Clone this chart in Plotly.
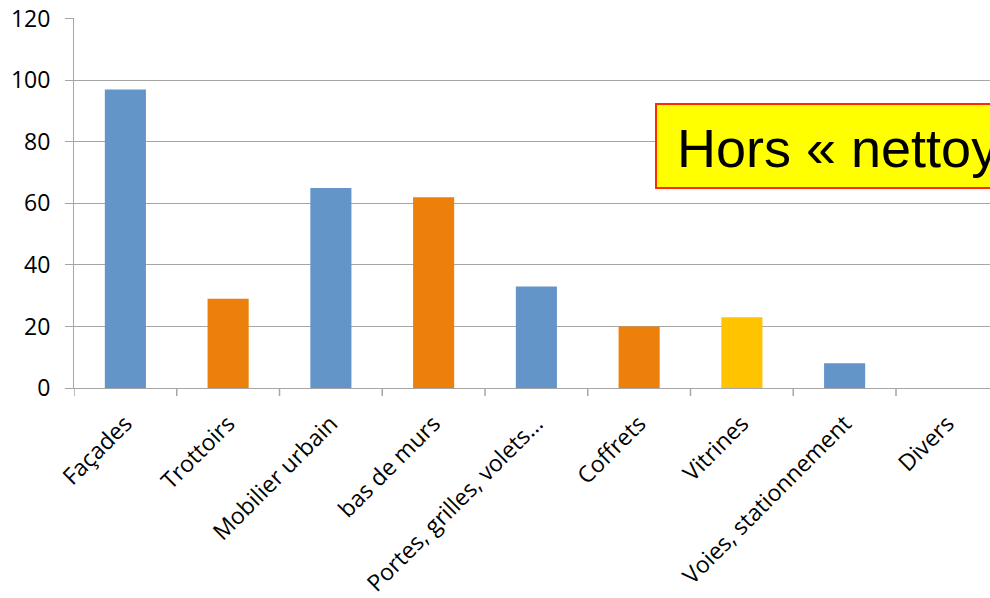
import plotly.graph_objects as go

categories = ["Façades", "Trottoirs", "Mobilier urbain", "bas de murs",
              "Portes, grilles, volets…", "Coffrets", "Vitrines",
              "Voies, stationnement", "Divers"]
values = [97, 29, 65, 62, 33, 20, 23, 8, 0]
bar_colors = ["#6395C9", "#EC800A", "#6395C9", "#EC800A", "#6395C9",
              "#EC800A", "#FFC300", "#6395C9", "#6395C9"]
y_ticks = [0, 20, 40, 60, 80, 100, 120]
box_text = "Hors « nettoyage »"

W, H = 990, 598
L, R, T, B = 74, 0, 18, 210
step = 102.75
xmax = -0.5 + (W - L - R) / step

fig = go.Figure(go.Bar(
    x=list(range(len(categories))), y=values,
    marker=dict(color=bar_colors, line=dict(width=0)),
    width=0.4,
))

grid = "#A6A6A6"
fig.update_layout(
    width=W, height=H,
    margin=dict(l=L, r=R, t=T, b=B, pad=0),
    paper_bgcolor="white", plot_bgcolor="white",
    showlegend=False,
    font=dict(family="Open Sans", color="#000000"),
    xaxis=dict(
        range=[-0.5, xmax],
        tickmode="array", tickvals=list(range(len(categories))),
        ticktext=categories, tickangle=-45,
        tickfont=dict(size=23, family="Open Sans"),
        showgrid=False, showline=True, linecolor=grid, linewidth=1,
        ticks="", zeroline=False, fixedrange=True, ticklabelstandoff=12,
    ),
    yaxis=dict(
        range=[0, 120.2], tickmode="array", tickvals=y_ticks,
        tickfont=dict(size=23, family="Open Sans"),
        showgrid=True, gridcolor=grid, gridwidth=1,
        showline=True, linecolor=grid, linewidth=1,
        ticks="outside", ticklen=8, tickcolor=grid,
        zeroline=False, fixedrange=True, ticklabelstandoff=10,
        ticklabeloverflow="allow",
    ),
)

# category boundary tick marks on the x axis
for i in range(len(categories)):
    fig.add_shape(type="line", xref="x", yref="paper",
                  x0=i - 0.5, x1=i - 0.5, y0=0, y1=-8 / (H - T - B),
                  line=dict(color=grid, width=1.5))

# yellow text box
ph = H - T - B
pw = W - L - R
bx0 = (656 - L) / pw
by0 = (H - B - 188) / ph
by1 = (H - B - 104) / ph
fig.add_shape(type="rect", xref="paper", yref="paper",
              x0=bx0, x1=1.2, y0=by0, y1=by1,
              fillcolor="#FFFF00", line=dict(color="#FF2A00", width=2))
fig.add_annotation(xref="paper", yref="paper",
                   x=(675 - L) / pw, y=(by0 + by1) / 2 - 2 / ph,
                   xanchor="left", yanchor="middle", showarrow=False,
                   text=box_text,
                   font=dict(family="Liberation Sans", size=54, color="#000000"))

fig.write_html(
    "out.html",
    config={"displayModeBar": False, "staticPlot": True},
    post_script="document.body.style.margin='0';document.body.style.overflow='hidden';",
)
